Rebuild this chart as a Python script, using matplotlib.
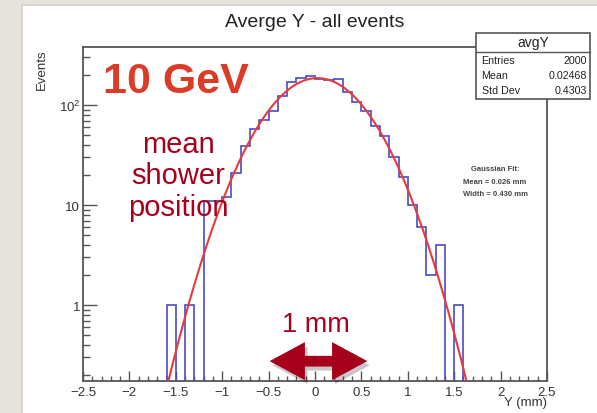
import matplotlib
matplotlib.use("Agg")
import matplotlib.pyplot as plt
import matplotlib.patheffects as pe
from matplotlib.patches import Rectangle
import numpy as np

plt.rcParams['font.family'] = ['Liberation Sans', 'DejaVu Sans']

# histogram data (bins of 0.1 mm starting at -1.6 mm)
bin_start = -1.6
bin_width = 0.1
counts = [1, 0, 1, 0, 11, 11, 12, 21, 39, 57, 71, 88, 122, 169, 185, 197,
          183, 176, 182, 134, 107, 88, 62, 49, 30, 19, 10, 6, 2, 4, 0, 1]

# gaussian fit parameters
fit_amp = 186
fit_mean = 0.026
fit_width = 0.430

# stats box
stats_name = "avgY"
stats_rows = [("Entries", "2000"), ("Mean", "0.02468"), ("Std Dev", "0.4303")]

xticks = [-2.5, -2, -1.5, -1, -0.5, 0, 0.5, 1, 1.5, 2, 2.5]
xticklabels = ['\u22122.5', '\u22122', '\u22121.5', '\u22121', '\u22120.5', '0',
               '0.5', '1', '1.5', '2', '2.5']
yticks = [1, 10, 100]
yticklabels = ['1', '10', r'$\mathregular{10^{2}}$']

hist_color = '#4a4ac6'
fit_color = '#e8393c'
dark_red = '#a6001c'
frame_color = '#555555'

fig = plt.figure(figsize=(5.97, 4.14), dpi=100, facecolor='#e6e2dc')
# white slide panel
fig.patches.append(Rectangle((21/597, 0), 1, (414-5)/414, transform=fig.transFigure,
                             facecolor='#d8d4cf', edgecolor='none', zorder=-2))
fig.patches.append(Rectangle((23/597, 0), 1, (414-7)/414, transform=fig.transFigure,
                             facecolor='white', edgecolor='none', zorder=-1))

ax = fig.add_axes([83/597, 32/414, 464/597, 334.5/414])
ax.set_facecolor('white')

counts = np.array(counts, dtype=float)
edges = bin_start + bin_width*np.arange(len(counts)+1)
ax.stairs(np.where(counts > 0, counts, 1e-3), edges, baseline=1e-3,
          color=hist_color, lw=1.2, zorder=3)

xf = np.linspace(-2.5, 2.5, 600)
yf = fit_amp*np.exp(-0.5*((xf - fit_mean)/fit_width)**2)
ax.plot(xf, yf, color=fit_color, lw=1.5, zorder=4)

ax.set_yscale('log')
ax.set_xlim(-2.5, 2.5)
ax.set_ylim(0.174, 385)

ax.set_xticks(xticks)
ax.set_xticklabels(xticklabels)
ax.set_xticks(np.arange(-2.5, 2.51, 0.1), minor=True)
ax.set_yticks(yticks)
ax.set_yticklabels(yticklabels)
ax.tick_params(axis='both', which='both', direction='in', colors=frame_color,
               labelcolor='#333333', labelsize=9.5, width=1.0)
ax.tick_params(axis='x', which='major', length=7.2, pad=3.5)
ax.tick_params(axis='x', which='minor', length=3.6)
ax.tick_params(axis='y', which='major', length=10, pad=2)
ax.tick_params(axis='y', which='minor', length=5)
for s in ax.spines.values():
    s.set_color(frame_color)
    s.set_linewidth(1.3)

# titles and labels
ax.text(0.5, 1.076, "Averge Y - all events", transform=ax.transAxes,
        ha='center', va='center', fontsize=14, color='#222222')
ax.text(1.0, -0.063, "Y (mm)", transform=ax.transAxes, ha='right', va='center',
        fontsize=9.5, color='#333333')
ax.text(-0.088, 0.995, "Events", transform=ax.transAxes, ha='center', va='top',
        rotation=90, fontsize=9.5, color='#333333')

# stats box
bx0, bx1, by0, by1 = 0.847, 1.093, 0.843, 1.040
ax.add_patch(Rectangle((bx0, by0), bx1-bx0, by1-by0, transform=ax.transAxes,
                       facecolor='white', edgecolor=frame_color, lw=1.2,
                       clip_on=False, zorder=6))
ax.plot([bx0, bx1], [0.9836, 0.9836], transform=ax.transAxes, color=frame_color,
        lw=1.0, clip_on=False, zorder=7)
ax.text((bx0+bx1)/2, 1.012, stats_name, transform=ax.transAxes, ha='center',
        va='center', fontsize=10, color='#222222', zorder=7)
for i, (k, v) in enumerate(stats_rows):
    yy = 0.9596 - i*0.0455
    ax.text(bx0+0.012, yy, k, transform=ax.transAxes, ha='left', va='center',
            fontsize=7.7, color='#222222', zorder=7)
    ax.text(bx1-0.006, yy, v, transform=ax.transAxes, ha='right', va='center',
            fontsize=7.7, color='#222222', zorder=7)

# gaussian fit note
fit_lines = ["Gaussian Fit:", "Mean = %.3f mm" % fit_mean, "Width = %.3f mm" % fit_width]
for i, t in enumerate(fit_lines):
    ax.text(0.888, 0.634 - i*0.037, t, transform=ax.transAxes, ha='center',
            va='center', fontsize=5.5, fontweight='bold', color='#444444')

# slide annotations
ax.text(0.200, 0.897, "10 GeV", transform=ax.transAxes, ha='center', va='center',
        fontsize=31, fontweight='bold', color='#dc3b27', zorder=8)
ax.text(0.205, 0.615, "mean\nshower\nposition", transform=ax.transAxes,
        ha='center', va='center', fontsize=21, color=dark_red, linespacing=1.17,
        zorder=8)
ax.text(0.501, 0.170, "1 mm", transform=ax.transAxes, ha='center', va='center',
        fontsize=19.5, color=dark_red, zorder=8)

# double arrow drawn as two arrows from the middle outwards
arrow_y = 0.275
arrow_left, arrow_right = -0.485, 0.56
arrow_mid = (arrow_left + arrow_right) / 2
for end in (arrow_left, arrow_right):
    ann = ax.annotate('', xy=(end, arrow_y), xytext=(arrow_mid, arrow_y),
                      arrowprops=dict(arrowstyle='simple,head_length=2.5,head_width=2.7,tail_width=0.75',
                                      mutation_scale=10, lw=0, color=dark_red,
                                      shrinkA=0, shrinkB=0),
                      zorder=8, annotation_clip=False)
    ann.arrow_patch.set_path_effects([pe.withSimplePatchShadow(offset=(2, -3),
                                      shadow_rgbFace='k', alpha=0.22),
                                      pe.Normal()])

fig.savefig('out.png', dpi=100)
